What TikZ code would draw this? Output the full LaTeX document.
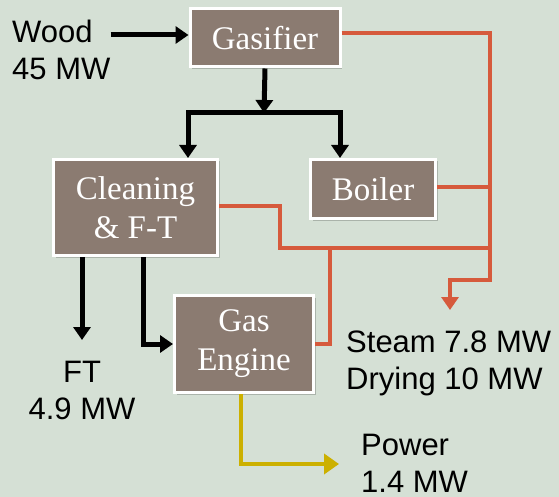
\documentclass[tikz,border=0pt]{standalone}
\usepackage{fontspec}
\setmainfont{Liberation Serif}
\setsansfont{Liberation Sans}
\usetikzlibrary{shapes,arrows.meta,shadows,calc}
\usetikzlibrary{positioning}
\definecolor{bg}{RGB}{213,224,213}
\definecolor{boxfill}{RGB}{139,123,113}
\definecolor{steamred}{RGB}{214,90,60}
\definecolor{poweryellow}{RGB}{204,176,0}
\tikzstyle{box}=[draw=white, line width=3pt, fill=boxfill, text=white,
align=center, inner sep=0pt, font=\fontsize{33}{39}\selectfont,
drop shadow={shadow xshift=2pt, shadow yshift=-2pt, opacity=0.2, fill=black}]
\tikzstyle{label}=[inner sep=0pt, font=\sffamily\fontsize{31}{37}\selectfont]
\tikzstyle{myarrow}=[-{Triangle[length=13pt,width=17pt]}, line width=5pt]
\tikzstyle{myline}=[line width=5pt]
\tikzstyle{steamline}=[draw=steamred, line width=4pt]
\tikzstyle{steamarrow}=[steamline, -{Triangle[length=13pt,width=17pt]}]
\tikzstyle{powerarrow}=[draw=poweryellow, line width=4pt, -{Triangle[length=15pt,width=20pt]}]

\begin{document}
\begin{tikzpicture}[x=1pt, y=-1pt]

    \fill[bg] (0,0) rectangle (559,497);
    \useasboundingbox (0,0) rectangle (559,497);

    \node[box, minimum width=150pt, minimum height=58pt] (gasifier) at (265,38) {Gasifier};
    \node[box, minimum width=164pt, minimum height=96pt] (cleaning) at (135.5,207.5) {Cleaning\\\& F-T};
    \node[box, minimum width=125pt, minimum height=59pt] (boiler) at (373,189) {Boiler};
    \node[box, minimum width=139pt, minimum height=97pt] (engine) at (244,344) {Gas\\Engine};

    \node[label, align=left, anchor=north west] (wood) at (12,20) {Wood\\45 MW};
    \node[label, align=center, anchor=north] (ft) at (82,361) {FT\\4.9 MW};
    \node[label, align=left, anchor=north west] (steam) at (346,331) {Steam 7.8 MW\\Drying 10 MW};
    \node[label, align=left, anchor=north west] (power) at (361,434) {Power\\1.4 MW};

    % wood into the gasifier
    \draw[myarrow] ([yshift=3pt]gasifier.west -| wood.east) -- ([yshift=3pt]gasifier.west) ;

    % gas split
    \coordinate (splitL) at (188,113);
    \coordinate (splitR) at (340,113);
    \draw[myarrow] (gasifier.south) -- ($(splitL)!0.5!(splitR)$) ;
    \draw[myline, line cap=rect] (splitL) -- (splitR) ;
    \draw[myarrow] (splitL) -- (splitL |- cleaning.north) ;
    \draw[myarrow] (splitR) -- (splitR |- boiler.north) ;

    % products of cleaning
    \draw[myarrow] (ft.north |- cleaning.south) -- ([yshift=21pt]ft.north) ;
    \draw[myarrow] ([xshift=8pt]cleaning.south) |- (engine.west) ;

    % steam
    \coordinate (trunk) at (490,280);
    \coordinate (steamout) at (450,310);
    \coordinate (mix) at (280,248);
    \draw[steamarrow] ([yshift=5pt]gasifier.east) -| (trunk) -| (steamout) ;
    \draw[steamline] ([yshift=2pt]boiler.east) -- ([yshift=2pt]boiler.east -| trunk) ;
    \draw[steamline] ([yshift=2pt]cleaning.east) -| (mix) -- (mix -| trunk) ;
    \draw[steamline] (engine.east) -| ([xshift=50pt]mix) ;

    % power
    \coordinate (powertip) at (339,464);
    \draw[powerarrow] ([xshift=-3pt]engine.south) |- (powertip) ;

\end{tikzpicture}
\end{document}
